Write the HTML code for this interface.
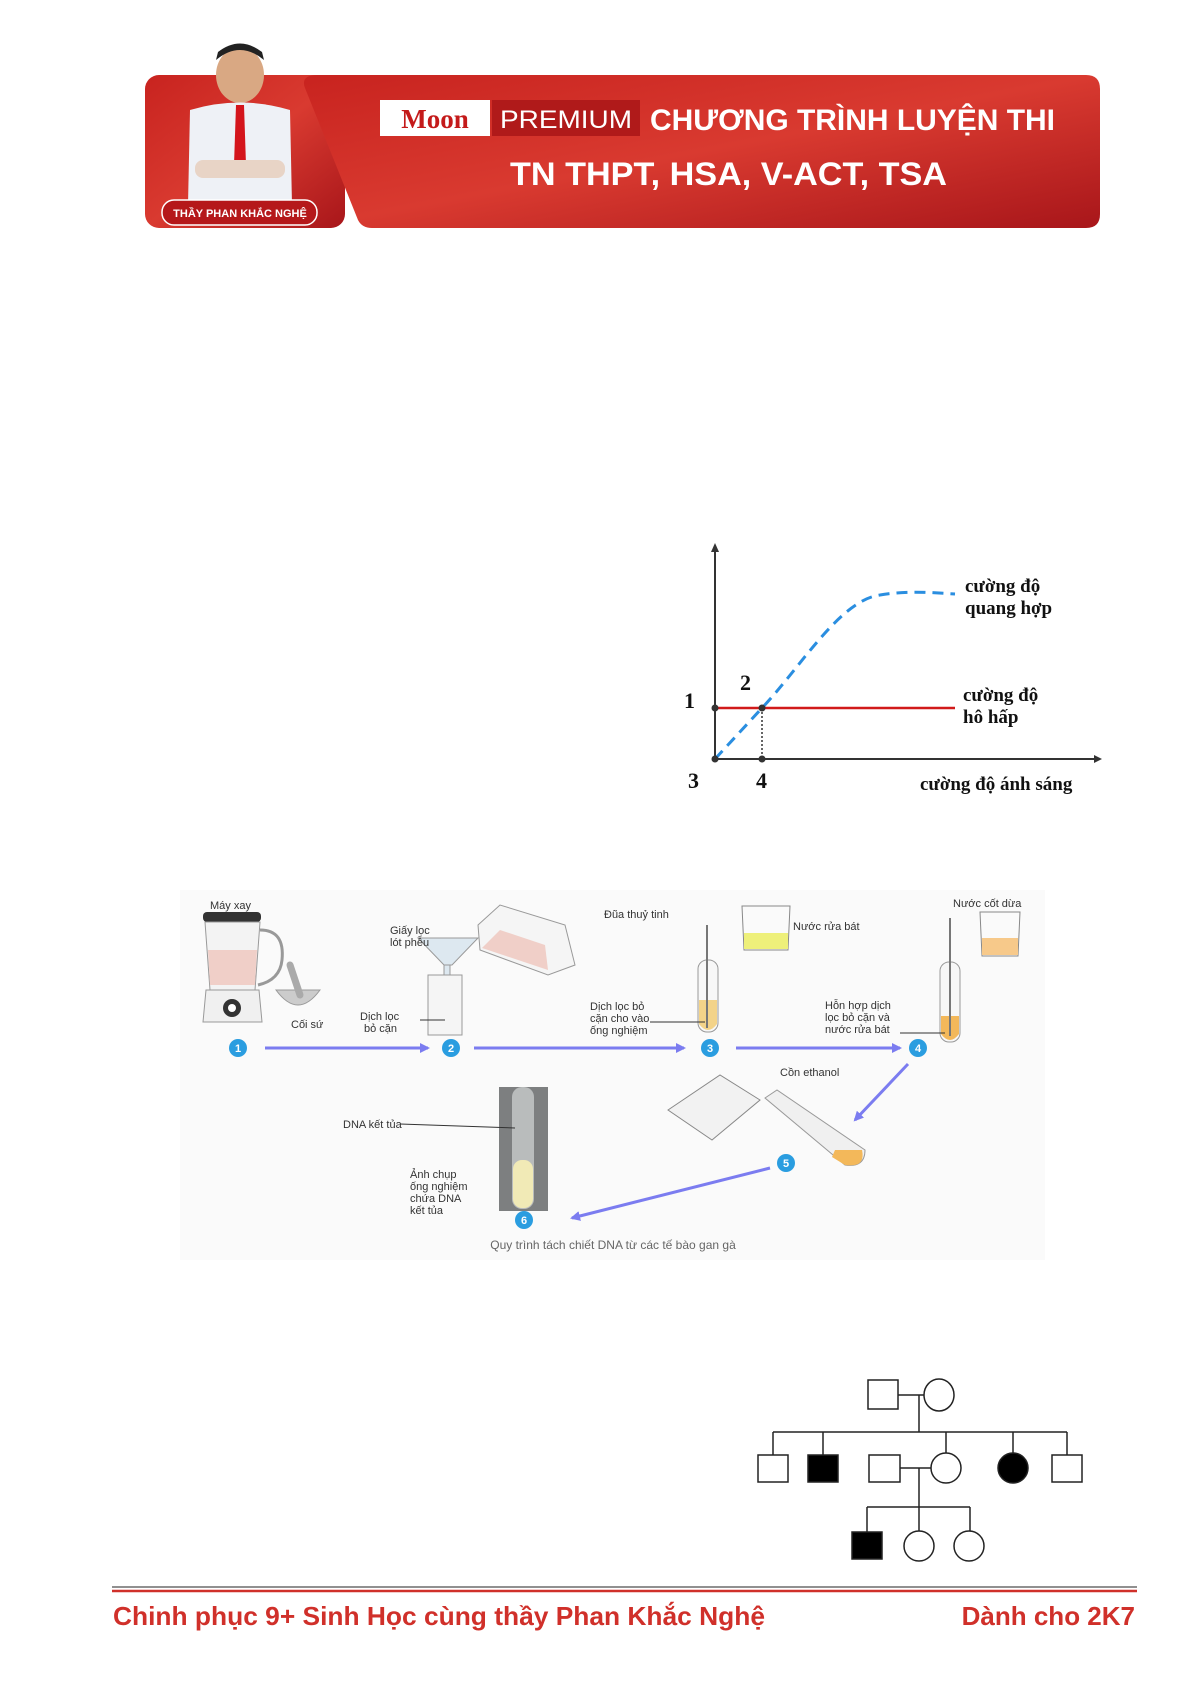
<!DOCTYPE html>
<html><head><meta charset="utf-8">
<style>
body{margin:0;background:#fff;}
#p{position:relative;width:1192px;height:1685px;overflow:hidden;background:#fff;font-family:"Liberation Sans",sans-serif;}
.t{position:absolute;white-space:nowrap;}
</style></head><body><div id="p">
<svg width="1192" height="1685" style="position:absolute;left:0;top:0" font-family="Liberation Sans, sans-serif">
<defs>
<linearGradient id="rg" x1="0" y1="0" x2="1" y2="1"><stop offset="0" stop-color="#c8231f"/><stop offset="0.5" stop-color="#d93a30"/><stop offset="1" stop-color="#a8161a"/></linearGradient>
<marker id="ah" markerWidth="10" markerHeight="10" refX="8" refY="5" orient="auto" markerUnits="userSpaceOnUse"><path d="M0,0 L10,5 L0,10 Z" fill="#7b7cf0"/></marker>
</defs>
<!-- banner -->
<rect x="145" y="75" width="200" height="153" rx="14" fill="url(#rg)"/>
<path d="M318,75 L1086,75 Q1100,75 1100,89 L1100,214 Q1100,228 1086,228 L372,228 Q362,228 358,220 L305,88 Q300,75 318,75 Z" fill="url(#rg)"/>
<rect x="250" y="75" width="60" height="153" fill="#fff" opacity="0"/>
<!-- person -->
<ellipse cx="240" cy="75" rx="24" ry="28" fill="#d9a883"/>
<path d="M216,60 Q240,40 264,60 L262,52 Q240,35 218,52 Z" fill="#222"/>
<path d="M190,110 Q240,95 290,110 L292,205 L188,205 Z" fill="#eef1f6"/>
<path d="M236,105 L244,105 L246,165 L240,172 L234,165 Z" fill="#d4151c"/>
<rect x="195" y="160" width="90" height="18" rx="8" fill="#e8d4c6"/>
<rect x="162" y="200" width="155" height="25" rx="12" fill="#b5181a" stroke="#fff" stroke-width="1.5"/>
<text x="240" y="217" fill="#fff" font-size="11" font-weight="bold" text-anchor="middle">THẦY PHAN KHẮC NGHỆ</text>
<rect x="380" y="100" width="110" height="36" fill="#fff"/>
<text x="435" y="128" fill="#c41a1a" font-size="27" font-weight="bold" text-anchor="middle" font-family="Liberation Serif, serif">Moon</text>
<rect x="492" y="100" width="148" height="36" fill="#b01a1a"/>
<text x="566" y="128" fill="#fff" font-size="25" text-anchor="middle" textLength="132" lengthAdjust="spacingAndGlyphs">PREMIUM</text>
<text x="650" y="130" fill="#fff" font-size="30" font-weight="bold" textLength="405" lengthAdjust="spacingAndGlyphs">CHƯƠNG TRÌNH LUYỆN THI</text>
<text x="510" y="185" fill="#fff" font-size="32" font-weight="bold" textLength="437" lengthAdjust="spacingAndGlyphs">TN THPT, HSA, V-ACT, TSA</text>

<!-- graph -->
<line x1="715" y1="759" x2="715" y2="547" stroke="#333" stroke-width="2"/>
<path d="M711,552 L715,543 L719,552 Z" fill="#333"/>
<line x1="715" y1="759" x2="1098" y2="759" stroke="#333" stroke-width="2"/>
<path d="M1094,755 L1102,759 L1094,763 Z" fill="#333"/>
<line x1="715" y1="708" x2="955" y2="708" stroke="#d11a1a" stroke-width="2.5"/>
<line x1="762" y1="708" x2="762" y2="759" stroke="#333" stroke-width="1.5" stroke-dasharray="2,2"/>
<path d="M715,759 L762,708 C800,668 840,600 880,595 C910,590 935,593 955,594" fill="none" stroke="#2a8ee0" stroke-width="3" stroke-dasharray="11,7"/>
<circle cx="715" cy="708" r="3.5" fill="#333"/><circle cx="762" cy="708" r="3.5" fill="#333"/>
<circle cx="715" cy="759" r="3.5" fill="#333"/><circle cx="762" cy="759" r="3.5" fill="#333"/>
<g font-family="Liberation Serif, serif" font-weight="bold" fill="#111">
<text x="684" y="708" font-size="22">1</text>
<text x="740" y="690" font-size="22">2</text>
<text x="688" y="788" font-size="22">3</text>
<text x="756" y="788" font-size="22">4</text>
<text x="965" y="592" font-size="19">cường độ</text>
<text x="965" y="614" font-size="19">quang hợp</text>
<text x="963" y="701" font-size="19">cường độ</text>
<text x="963" y="723" font-size="19">hô hấp</text>
<text x="920" y="790" font-size="19">cường độ ánh sáng</text>
</g>

<!-- DNA figure -->
<rect x="180" y="890" width="865" height="370" fill="#fafafa"/>
<!-- blender -->
<rect x="203" y="912" width="58" height="10" rx="4" fill="#333"/>
<path d="M205,922 L260,922 L255,990 L210,990 Z" fill="#f3f3f3" stroke="#999"/>
<path d="M208,950 L257,950 L255,985 L210,985 Z" fill="#f0cfc8"/>
<path d="M260,930 Q285,930 282,960 Q280,980 258,985" fill="none" stroke="#999" stroke-width="3"/>
<path d="M206,990 L259,990 L262,1022 L203,1022 Z" fill="#f0f0f0" stroke="#999"/>
<circle cx="232" cy="1008" r="9" fill="#333"/><circle cx="232" cy="1008" r="4" fill="#fff"/>
<path d="M276,990 Q298,1020 320,990 Z" fill="#ccc" stroke="#999"/>
<line x1="290" y1="965" x2="300" y2="995" stroke="#aaa" stroke-width="7" stroke-linecap="round"/>
<!-- stage 2 -->
<path d="M418,938 L478,938 L452,965 L444,965 Z" fill="#dde8f0" stroke="#999"/>
<rect x="444" y="965" width="6" height="20" fill="#dde8f0" stroke="#999"/>
<path d="M428,975 L462,975 L462,1035 L428,1035 Z" fill="#f5f5f5" stroke="#999"/>
<path d="M478,925 L500,905 L565,925 L575,965 L548,975 L480,950 Z" fill="#f5f5f5" stroke="#999"/>
<path d="M482,948 L500,930 L545,945 L548,970 Z" fill="#f0cfc8"/>
<!-- stage 3 -->
<rect x="698" y="960" width="20" height="72" rx="9" fill="#f7f7f7" stroke="#999"/>
<path d="M699,1000 L717,1000 L717,1024 Q708,1036 699,1024 Z" fill="#f3d389"/>
<line x1="707" y1="925" x2="707" y2="1028" stroke="#777" stroke-width="2"/>
<path d="M742,906 L790,906 L788,950 L744,950 Z" fill="#fafafa" stroke="#888"/>
<rect x="744" y="933" width="44" height="16" fill="#eef07a"/>
<!-- stage 4 -->
<rect x="940" y="962" width="20" height="80" rx="9" fill="#f7f7f7" stroke="#999"/>
<path d="M941,1016 L959,1016 L959,1034 Q950,1046 941,1034 Z" fill="#f3b85a"/>
<line x1="950" y1="918" x2="950" y2="1036" stroke="#777" stroke-width="2"/>
<path d="M980,912 L1020,912 L1018,956 L982,956 Z" fill="#fafafa" stroke="#888"/>
<rect x="982" y="938" width="36" height="17" fill="#f7c98a"/>
<!-- stage 5 -->
<path d="M668,1110 L720,1075 L760,1100 L712,1140 Z" fill="#f2f2f2" stroke="#888"/>
<path d="M765,1098 L777,1090 L865,1150 Q865,1168 845,1165 Z" fill="#f0f0f0" stroke="#999"/>
<path d="M835,1150 L862,1150 Q866,1168 845,1165 L832,1157 Z" fill="#f3b85a"/>
<!-- stage 6 photo -->
<rect x="499" y="1087" width="49" height="124" fill="#7d7f80"/>
<rect x="512" y="1087" width="22" height="122" rx="10" fill="#b9bcbc"/>
<rect x="513" y="1160" width="20" height="48" rx="9" fill="#f1eab6"/>
<!-- arrows -->
<g stroke="#7b7cf0" stroke-width="3" marker-end="url(#ah)" fill="none">
<line x1="265" y1="1048" x2="428" y2="1048"/>
<line x1="474" y1="1048" x2="684" y2="1048"/>
<line x1="736" y1="1048" x2="900" y2="1048"/>
<line x1="908" y1="1064" x2="855" y2="1120"/>
<line x1="770" y1="1168" x2="572" y2="1218"/>
</g>
<g fill="#2a9de0">
<circle cx="238" cy="1048" r="9"/><circle cx="451" cy="1048" r="9"/><circle cx="710" cy="1048" r="9"/>
<circle cx="918" cy="1048" r="9"/><circle cx="786" cy="1163" r="9"/><circle cx="524" cy="1220" r="9"/>
</g>
<g fill="#fff" font-size="11" font-weight="bold" text-anchor="middle">
<text x="238" y="1052">1</text><text x="451" y="1052">2</text><text x="710" y="1052">3</text>
<text x="918" y="1052">4</text><text x="786" y="1167">5</text><text x="524" y="1224">6</text>
</g>
<g fill="#333" font-size="11">
<text x="210" y="909">Máy xay</text>
<text x="291" y="1028">Cối sứ</text>
<text x="390" y="934">Giấy lọc</text><text x="390" y="946">lót phễu</text>
<text x="360" y="1020">Dịch lọc</text><text x="364" y="1032">bỏ cặn</text>
<text x="604" y="918">Đũa thuỷ tinh</text>
<text x="793" y="930">Nước rửa bát</text>
<text x="590" y="1010">Dịch lọc bỏ</text><text x="590" y="1022">cặn cho vào</text><text x="590" y="1034">ống nghiệm</text>
<text x="953" y="907">Nước cốt dừa</text>
<text x="825" y="1009">Hỗn hợp dịch</text><text x="825" y="1021">lọc bỏ cặn và</text><text x="825" y="1033">nước rửa bát</text>
<text x="780" y="1076">Cồn ethanol</text>
<text x="343" y="1128">DNA kết tủa</text>
<text x="410" y="1178">Ảnh chụp</text><text x="410" y="1190">ống nghiệm</text><text x="410" y="1202">chứa DNA</text><text x="410" y="1214">kết tủa</text>
</g>
<text x="613" y="1249" fill="#666" font-size="12" text-anchor="middle">Quy trình tách chiết DNA từ các tế bào gan gà</text>
<g stroke="#333" stroke-width="1">
<line x1="420" y1="1020" x2="445" y2="1020"/>
<line x1="650" y1="1022" x2="705" y2="1022"/>
<line x1="900" y1="1033" x2="945" y2="1033"/>
<line x1="400" y1="1124" x2="515" y2="1128"/>
</g>

<!-- pedigree -->
<g stroke="#222" stroke-width="1.5" fill="#fff">
<line x1="898" y1="1395" x2="924" y2="1395"/>
<line x1="919" y1="1395" x2="919" y2="1432"/>
<line x1="773" y1="1432" x2="1067" y2="1432"/>
<line x1="773" y1="1432" x2="773" y2="1455"/><line x1="823" y1="1432" x2="823" y2="1455"/>
<line x1="946" y1="1432" x2="946" y2="1454"/><line x1="1013" y1="1432" x2="1013" y2="1454"/>
<line x1="1067" y1="1432" x2="1067" y2="1455"/>
<line x1="900" y1="1468" x2="931" y2="1468"/>
<line x1="919" y1="1468" x2="919" y2="1507"/>
<line x1="867" y1="1507" x2="970" y2="1507"/>
<line x1="867" y1="1507" x2="867" y2="1532"/><line x1="919" y1="1507" x2="919" y2="1531"/><line x1="970" y1="1507" x2="970" y2="1531"/>
<rect x="868" y="1380" width="30" height="29"/>
<ellipse cx="939" cy="1395" rx="15" ry="16"/>
<rect x="758" y="1455" width="30" height="27"/>
<rect x="808" y="1455" width="30" height="27" fill="#000"/>
<rect x="869" y="1455" width="31" height="27"/>
<ellipse cx="946" cy="1468" rx="15" ry="15"/>
<ellipse cx="1013" cy="1468" rx="15" ry="15" fill="#000"/>
<rect x="1052" y="1455" width="30" height="27"/>
<rect x="852" y="1532" width="30" height="27" fill="#000"/>
<ellipse cx="919" cy="1546" rx="15" ry="15"/>
<ellipse cx="969" cy="1546" rx="15" ry="15"/>
</g>

<!-- footer -->
<line x1="112" y1="1587" x2="1137" y2="1587" stroke="#222" stroke-width="1"/>
<line x1="112" y1="1591" x2="1137" y2="1591" stroke="#d0302a" stroke-width="2.5"/>
<text x="113" y="1625" fill="#d0302a" font-size="26" font-weight="bold" textLength="652" lengthAdjust="spacingAndGlyphs">Chinh phục 9+ Sinh Học cùng thầy Phan Khắc Nghệ</text>
<text x="1135" y="1625" fill="#d0302a" font-size="26" font-weight="bold" text-anchor="end">Dành cho 2K7</text>
</svg>
</div></body></html>
